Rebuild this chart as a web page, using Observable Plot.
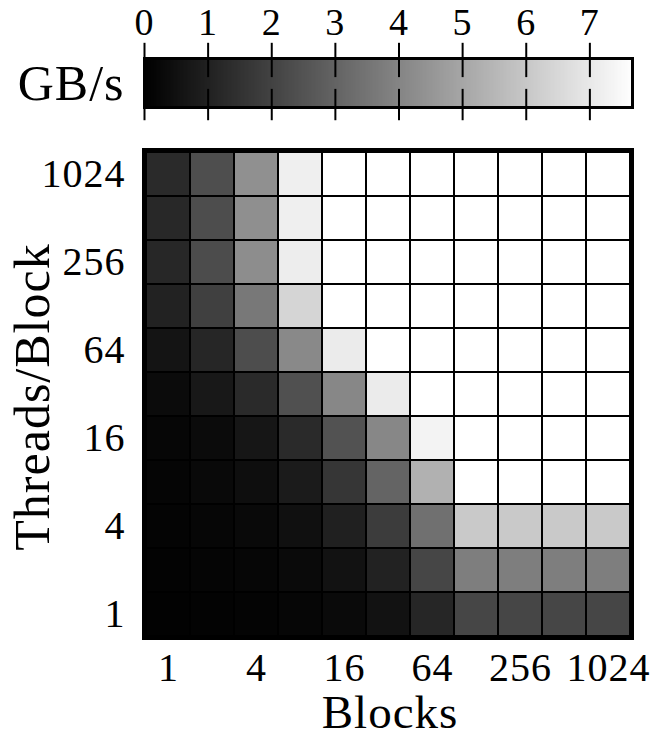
<!DOCTYPE html>
<html>
<head>
<meta charset="utf-8">
<script src="https://cdn.jsdelivr.net/npm/d3@7"></script>
<script src="https://cdn.jsdelivr.net/npm/@observablehq/plot@0.6"></script>
<style>
  html, body { margin: 0; padding: 0; background: white; }
  #wrap { position: relative; width: 656px; height: 739px; overflow: hidden; }
  #wrap > svg { position: absolute; left: 0; }
</style>
</head>
<body>
<div id="wrap"></div>
<script>
// ---- data ----
const blocks = [1, 2, 4, 8, 16, 32, 64, 128, 256, 512, 1024];
const threads = [1024, 512, 256, 128, 64, 32, 16, 8, 4, 2, 1]; // top to bottom
const blockTicks = [1, 4, 16, 64, 256, 1024];
const threadTicks = [1, 4, 16, 64, 256, 1024];
const legendTicks = [0, 1, 2, 3, 4, 5, 6, 7];
const legendMax = 7.67;
const legendLabel = "GB/s";
const xTitle = "Blocks";
const yTitle = "Threads/Block";

// GB/s, one array per threads/block row, columns = blocks 1..1024
const t1024 = [1.27, 2.36, 4.32, 7.19, 7.7, 7.7, 7.7, 7.7, 7.7, 7.7, 7.7];
const t512  = [1.21, 2.33, 4.29, 7.19, 7.7, 7.7, 7.7, 7.7, 7.7, 7.7, 7.7];
const t256  = [1.18, 2.30, 4.23, 7.13, 7.7, 7.7, 7.7, 7.7, 7.7, 7.7, 7.7];
const t128  = [1.03, 1.93, 3.62, 6.40, 7.7, 7.7, 7.7, 7.7, 7.7, 7.7, 7.7];
const t64   = [0.60, 1.15, 2.33, 4.11, 7.07, 7.7, 7.7, 7.7, 7.7, 7.7, 7.7];
const t32   = [0.33, 0.72, 1.27, 2.42, 4.05, 7.07, 7.7, 7.7, 7.7, 7.7, 7.7];
const t16   = [0.18, 0.33, 0.66, 1.27, 2.48, 4.05, 7.31, 7.7, 7.7, 7.7, 7.7];
const t8    = [0.15, 0.27, 0.42, 0.82, 1.63, 3.02, 5.31, 7.7, 7.7, 7.7, 7.7];
const t4    = [0.12, 0.18, 0.27, 0.48, 0.97, 1.81, 3.38, 6.04, 6.04, 6.04, 6.04];
const t2    = [0.09, 0.15, 0.18, 0.30, 0.54, 1.03, 2.11, 3.80, 3.80, 3.80, 3.80];
const t1    = [0.06, 0.09, 0.12, 0.18, 0.30, 0.54, 1.15, 2.11, 2.11, 2.11, 2.11];
const rows = [t1024, t512, t256, t128, t64, t32, t16, t8, t4, t2, t1];

const cells = [];
rows.forEach((row, i) => row.forEach((v, j) => cells.push({blocks: blocks[j], threads: threads[i], gbps: v})));

const font = "'Liberation Serif', 'DejaVu Serif', serif";
const colorScale = {type: "linear", domain: [0, legendMax], range: ["black", "white"], clamp: true};
const fmt = d => String(d);

// ---- colour bar ----
const bar = Plot.plot({
  width: 656, height: 140,
  marginLeft: 144, marginRight: 24, marginTop: 58, marginBottom: 33,
  style: {fontFamily: font, fontSize: "38px", letterSpacing: "1px", color: "black", background: "transparent", overflow: "visible"},
  x: {domain: [0, legendMax], axis: null},
  y: {domain: [0, 1], axis: null},
  color: colorScale,
  marks: [
    Plot.raster({fill: (x, y) => x, x1: 0, x2: legendMax, y1: 0, y2: 1, width: 400, height: 1, imageRendering: "auto"}),
    Plot.frame({stroke: "black", strokeWidth: 3}),
    Plot.ruleX(legendTicks, {y1: 1.31, y2: 0.61, stroke: "black", strokeWidth: 2}),
    Plot.ruleX(legendTicks, {y1: 0.37, y2: -0.27, stroke: "black", strokeWidth: 2}),
    Plot.axisX(legendTicks, {anchor: "top", tickSize: 0, tickPadding: 24, label: null, fontSize: 38, tickFormat: fmt}),
    Plot.text([legendLabel], {frameAnchor: "left", dx: -20, dy: 1, textAnchor: "end", lineAnchor: "middle", fontSize: 50, letterSpacing: "2px"})
  ]
});
bar.style.top = "0px";

// ---- heatmap ----
const heat = Plot.plot({
  width: 656, height: 599,
  marginLeft: 143, marginRight: 24, marginTop: 9, marginBottom: 101,
  style: {fontFamily: font, fontSize: "40px", letterSpacing: "1px", color: "black", background: "transparent", overflow: "visible"},
  x: {type: "band", domain: blocks, padding: 0, ticks: blockTicks, tickSize: 0, tickPadding: 14, tickFormat: fmt, label: null},
  y: {type: "band", domain: threads, padding: 0, ticks: threadTicks, tickSize: 0, tickPadding: 18, tickFormat: fmt, label: null},
  color: colorScale,
  marks: [
    Plot.cell(cells, {x: "blocks", y: "threads", fill: "gbps", stroke: "black", strokeWidth: 2}),
    Plot.frame({stroke: "black", strokeWidth: 3}),
    Plot.text([xTitle], {frameAnchor: "bottom", dx: 2, dy: 89, textAnchor: "middle", lineAnchor: "bottom", fontSize: 47, letterSpacing: "2px"}),
    Plot.text([yTitle], {frameAnchor: "left", rotate: -90, dx: -130, dy: 3, textAnchor: "middle", lineAnchor: "top", fontSize: 50, letterSpacing: "2px"})
  ]
});
heat.style.top = "140px";

document.getElementById("wrap").append(bar, heat);
</script>
</body>
</html>
